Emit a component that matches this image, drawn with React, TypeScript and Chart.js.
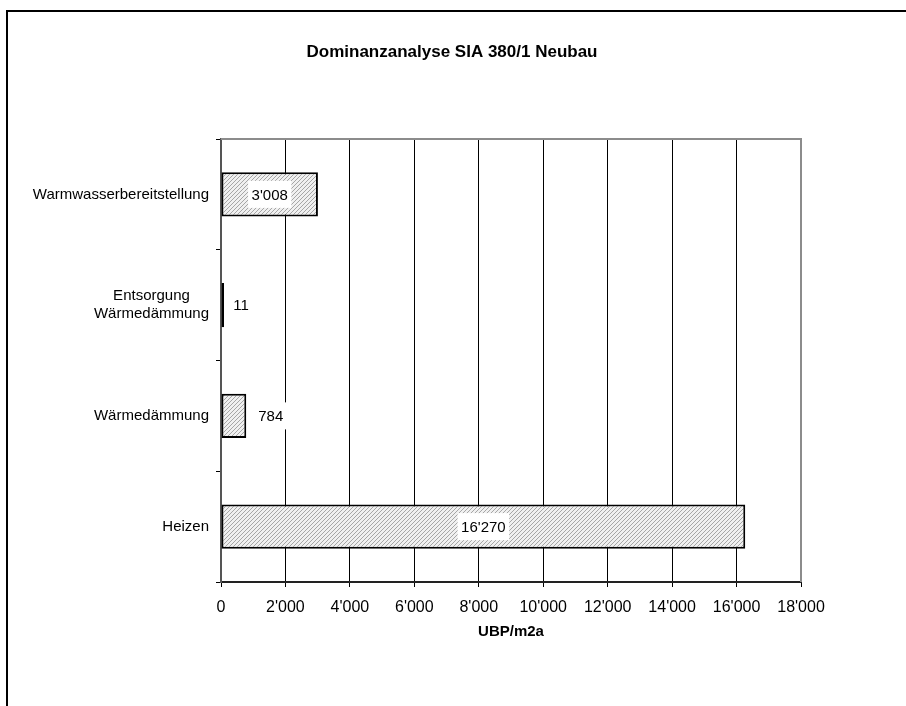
import React, { useEffect, useRef } from "react";
import { Chart, registerables } from "chart.js";

Chart.register(...registerables);

const titleText = "Dominanzanalyse SIA 380/1 Neubau";
const axisTitle = "UBP/m2a";
const categories: (string | string[])[] = [
  "Warmwasserbereitstellung",
  ["Entsorgung", "Wärmedämmung"],
  "Wärmedämmung",
  "Heizen",
];
const values = [3008, 11, 784, 16270];
const xMin = 0;
const xMax = 18000;
const xStep = 2000;

const FONT = "'Liberation Sans', Arial, sans-serif";

function fmt(v: number): string {
  return Math.round(v).toString().replace(/\B(?=(\d{3})+(?!\d))/g, "'");
}

function makePattern(): CanvasPattern | string {
  const c = document.createElement("canvas");
  c.width = 4;
  c.height = 4;
  const g = c.getContext("2d");
  if (!g) return "#d8d8d8";
  g.fillStyle = "#f0f0f0";
  g.fillRect(0, 0, 4, 4);
  g.fillStyle = "#a6a6a6";
  for (let i = 0; i < 4; i++) g.fillRect(3 - i, i, 1, 1);
  const p = g.createPattern(c, "repeat");
  return p || "#d8d8d8";
}

const framePlugin = {
  id: "frame",
  beforeDraw(chart: any) {
    const ctx = chart.ctx;
    ctx.save();
    ctx.fillStyle = "#ffffff";
    ctx.fillRect(0, 0, chart.width, chart.height);
    ctx.strokeStyle = "#000000";
    ctx.lineWidth = 2;
    ctx.strokeRect(7, 11, chart.width + 50, chart.height + 50);
    ctx.font = `bold 17px ${FONT}`;
    ctx.fillStyle = "#000000";
    ctx.textAlign = "center";
    ctx.textBaseline = "middle";
    ctx.fillText(titleText, 452, 52);
    ctx.restore();
  },
  beforeDatasetsDraw(chart: any) {
    const { ctx, chartArea } = chart;
    ctx.save();
    ctx.strokeStyle = "#8c8c8c";
    ctx.lineWidth = 2;
    ctx.beginPath();
    ctx.moveTo(chartArea.left, chartArea.top);
    ctx.lineTo(chartArea.right, chartArea.top);
    ctx.lineTo(chartArea.right, chartArea.bottom);
    ctx.stroke();
    ctx.restore();
  },
};

const yLabelPlugin = {
  id: "yLabels",
  afterDraw(chart: any) {
    const ctx = chart.ctx;
    const yScale = chart.scales.y;
    ctx.save();
    ctx.font = `15px ${FONT}`;
    ctx.fillStyle = "#000000";
    ctx.textAlign = "center";
    ctx.textBaseline = "middle";
    const lh = 18;
    const right = yScale.right - 12;
    categories.forEach((lab, i) => {
      const lines = Array.isArray(lab) ? lab : [lab];
      const maxW = Math.max(...lines.map((l) => ctx.measureText(l).width));
      const cy = yScale.getPixelForValue(i);
      const cx = right - maxW / 2;
      const y0 = cy - ((lines.length - 1) * lh) / 2;
      lines.forEach((l, k) => ctx.fillText(l, cx, y0 + k * lh));
    });
    ctx.restore();
  },
};

const valueLabelPlugin = {
  id: "valueLabels",
  afterDatasetsDraw(chart: any) {
    const ctx = chart.ctx;
    const meta = chart.getDatasetMeta(0);
    const xScale = chart.scales.x;
    ctx.save();
    ctx.font = `15px ${FONT}`;
    ctx.textAlign = "center";
    ctx.textBaseline = "middle";
    meta.data.forEach((bar: any, i: number) => {
      const text = fmt(values[i]);
      const tw = ctx.measureText(text).width;
      const bw = tw + 7;
      const bh = 27;
      const len = bar.x - bar.base;
      let cx: number;
      if (len > bw + 6) cx = (bar.x + bar.base) / 2;
      else cx = xScale.getPixelForValue(values[i]) + 12 + tw / 2;
      const cy = bar.y;
      ctx.fillStyle = "#ffffff";
      ctx.fillRect(cx - bw / 2, cy - bh / 2, bw, bh);
      ctx.fillStyle = "#000000";
      ctx.fillText(text, cx, cy + 1);
    });
    ctx.restore();
  },
};

export default function App() {
  const ref = useRef<HTMLCanvasElement | null>(null);
  useEffect(() => {
    if (!ref.current) return;
    const pattern = makePattern();
    const chart = new Chart(ref.current, {
      type: "bar",
      data: {
        labels: categories.map((c) => (Array.isArray(c) ? c.join(" ") : c)),
        datasets: [
          {
            data: values,
            backgroundColor: pattern as any,
            borderColor: "#000000",
            borderWidth: 2,
            borderSkipped: false,
            categoryPercentage: 0.4,
            barPercentage: 1,
            minBarLength: 3,
          },
        ],
      },
      options: {
        indexAxis: "y",
        animation: false,
        responsive: false,
        maintainAspectRatio: false,
        layout: { padding: { left: 0, right: 105, top: 139, bottom: 0 } },
        plugins: {
          legend: { display: false },
          tooltip: { enabled: false },
          title: { display: false },
        },
        scales: {
          x: {
            type: "linear",
            min: xMin,
            max: xMax,
            afterFit(scale: any) {
              scale.height = 124;
            },
            ticks: {
              stepSize: xStep,
              color: "#000000",
              font: { family: FONT, size: 16 },
              padding: 11,
              maxRotation: 0,
              callback: (v: any) => fmt(Number(v)),
            },
            grid: {
              color: (c: any) =>
                c.tick && (c.tick.value === xMin || c.tick.value === xMax)
                  ? "rgba(0,0,0,0)"
                  : "#000000",
              tickColor: "#000000",
              lineWidth: 1,
              tickLength: 5,
              drawTicks: true,
            },
            border: { display: true, color: "#222222", width: 2 },
            title: {
              display: true,
              text: axisTitle,
              color: "#000000",
              font: { family: FONT, size: 15, weight: "bold" },
              padding: { top: 0, bottom: 65 },
            },
          },
          y: {
            type: "category",
            afterFit(scale: any) {
              scale.width = 221;
            },
            ticks: { display: false },
            grid: {
              offset: true,
              drawOnChartArea: false,
              drawTicks: true,
              tickLength: 5,
              tickColor: "#000000",
              color: "#000000",
            },
            border: { display: true, color: "#555555", width: 2 },
          },
        },
      },
      plugins: [framePlugin, yLabelPlugin, valueLabelPlugin],
    });
    return () => chart.destroy();
  }, []);
  return (
    <div style={{ position: "fixed", left: 0, top: 0, width: 906, height: 706, background: "#fff" }}>
      <canvas ref={ref} width={906} height={706} style={{ width: 906, height: 706, display: "block" }} />
    </div>
  );
}
